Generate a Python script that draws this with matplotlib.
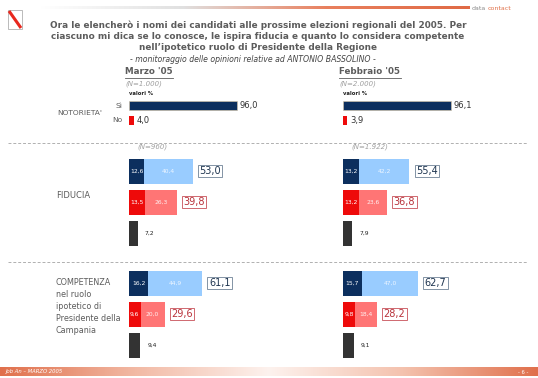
import numpy as np
import matplotlib.pyplot as plt
from matplotlib.patches import Rectangle
from matplotlib.colors import LinearSegmentedColormap

plt.rcParams['font.family'] = ['DejaVu Sans']

# data
months = ["Marzo '05", "Febbraio '05"]
n_total = ["(N=1.000)", "(N=2.000)"]
n_fid = ["(N=960)", "(N=1.922)"]
noto_si = [96.0, 96.1]
noto_no = [4.0, 3.9]
fid_molta = [12.6, 13.2]
fid_abb = [40.4, 42.2]
fid_poca = [13.5, 13.2]
fid_per = [26.3, 23.6]
fid_nd = [7.2, 7.9]
comp_molto = [16.2, 15.7]
comp_abb = [44.9, 47.0]
comp_poco = [9.6, 9.8]
comp_per = [20.0, 18.4]
comp_nd = [9.4, 9.1]

W, H = 538, 378
NAVY = '#0c2f5e'
LBLUE = '#99ccff'
RED = '#ee0a0a'
PINK = '#ff7575'
DGRAY = '#333333'
GREY = '#5c5c5c'


def fmt(v):
    return f"{v:.1f}".replace('.', ',')


fig = plt.figure(figsize=(W / 100, H / 100), dpi=100)
bg = fig.add_axes([0, 0, 1, 1])
bg.set_xlim(0, W)
bg.set_ylim(H, 0)
bg.axis('off')

# top gradient rule and footer band
grad = np.linspace(0, 1, 256).reshape(1, -1)
top_cm = LinearSegmentedColormap.from_list('t', ['#ffffff', '#e0e0e0', '#e9805e', '#e06a45'])
bg.imshow(grad, cmap=top_cm, extent=(40, 470, 9.5, 7), aspect='auto')
foot_cm = LinearSegmentedColormap.from_list('f', ['#e0704c', '#f2b9a4', '#fdf2ee', '#f4c2ae', '#e0704c'])
bg.imshow(grad, cmap=foot_cm, extent=(0, W, 376, 367.5), aspect='auto')
bg.set_xlim(0, W)
bg.set_ylim(H, 0)
bg.text(472, 8.5, 'data', color='#888888', fontsize=4.5, va='center')
bg.text(488, 8.5, 'contact', color='#e07048', fontsize=4.5, va='center')
bg.text(6, 372, 'Job An \u2013 MARZO 2005', color='white', fontsize=3.8, style='italic', va='center')
bg.text(528, 372, '- 6 -', color='white', fontsize=3.8, va='center', ha='right')

# logo
bg.add_patch(Rectangle((8, 10), 14, 19, fc='white', ec='#b0b0b0', lw=0.6))
bg.plot([9, 21], [11, 28], color='#e8281e', lw=2.2, solid_capstyle='butt')

# title
title = ("Ora le elencherò i nomi dei candidati alle prossime elezioni regionali del 2005. Per\n"
         "ciascuno mi dica se lo conosce, le ispira fiducia e quanto lo considera competente\n"
         "nell\u2019ipotetico ruolo di Presidente della Regione")
bg.text(258, 36, title, ha='center', va='center', fontsize=6.4, fontweight='bold',
        color=GREY, linespacing=1.25)
bg.text(253, 59.5, '- monitoraggio delle opinioni relative ad ANTONIO BASSOLINO -',
        ha='center', va='center', fontsize=5.6, style='italic', color='#444444')

# dashed separators
for yy in (143, 262):
    bg.plot([8, 528], [yy, yy], color='#b0b0b0', lw=0.7, ls=(0, (3, 2)))

# left labels
bg.text(57, 113, "NOTORIETA'", fontsize=5.4, color=GREY, va='center')
bg.text(122, 105.5, 'Sì', fontsize=5.4, color=GREY, va='center', ha='right')
bg.text(122, 120, 'No', fontsize=5.4, color=GREY, va='center', ha='right')
bg.text(56, 196, 'FIDUCIA', fontsize=6, color=GREY, va='center')
bg.text(56, 306.5, 'COMPETENZA\nnel ruolo\nipotetico di\nPresidente della\nCampania',
        fontsize=5.8, color=GREY, va='center', linespacing=1.4)

starts = [129, 343]
for i in range(2):
    x0 = starts[i]
    bg.text(x0 - 4, 72, months[i], fontsize=6.3, fontweight='bold', color=GREY, va='center')
    tw = 48 if i == 0 else 62
    bg.plot([x0 - 4, x0 - 4 + tw], [77.5, 77.5], color=GREY, lw=0.6)
    bg.text(x0 - 4, 84, n_total[i], fontsize=5, style='italic', color='#a0a0a0', va='center')
    bg.text(x0, 93.5, 'valori %', fontsize=3.8, fontweight='bold', color='#222222', va='center')
    bg.text(x0 + 8, 147, n_fid[i], fontsize=5, style='italic', color='#a0a0a0', va='center')

    # notorieta axes: 1.125 px per point
    sc = 1.125
    ax = fig.add_axes([x0 / W, 0, 150 / W, 1])
    ax.set_xlim(0, 150 / sc)
    ax.set_ylim(H, 0)
    ax.axis('off')
    ax.barh(105.5, noto_si[i], height=9, color=NAVY, ec='#d8c8a8', lw=0.4)
    ax.barh(120, noto_no[i], height=9, color=RED, lw=0)
    ax.text(noto_si[i] + 2.5, 105.5, fmt(noto_si[i]), fontsize=6, color='#333333', va='center')
    ax.text(noto_no[i] + 2.5, 120, fmt(noto_no[i]), fontsize=6, color='#333333', va='center')

    # fiducia / competenza axes: 1.2 px per point
    sc = 1.2
    ax = fig.add_axes([x0 / W, 0, 150 / W, 1])
    ax.set_xlim(0, 150 / sc)
    ax.set_ylim(H, 0)
    ax.axis('off')
    groups = [(171, fid_molta[i], fid_abb[i], fid_poca[i], fid_per[i], fid_nd[i]),
              (283, comp_molto[i], comp_abb[i], comp_poco[i], comp_per[i], comp_nd[i])]
    for yc, a, b, c, d, e in groups:
        y1, y2, y3 = yc, yc + 31, yc + 62
        ax.barh(y1, a, height=25, color=NAVY, lw=0)
        ax.barh(y1, b, left=a, height=25, color=LBLUE, lw=0)
        ax.barh(y2, c, height=25, color=RED, lw=0)
        ax.barh(y2, d, left=c, height=25, color=PINK, lw=0)
        ax.barh(y3, e, height=25, color=DGRAY, lw=0)
        ax.text(a / 2, y1, fmt(a), fontsize=4.3, color='white', ha='center', va='center')
        ax.text(a + b / 2, y1, fmt(b), fontsize=4.3, color='#eef6ff', ha='center', va='center')
        ax.text(c / 2, y2, fmt(c), fontsize=4.3, color='white', ha='center', va='center')
        ax.text(c + d / 2, y2, fmt(d), fontsize=4.3, color='#fff0f0', ha='center', va='center')
        ax.text(e + 6, y3, fmt(e), fontsize=4.3, color='#222222', ha='left', va='center')
        ax.text(a + b + 5.5, y1, fmt(a + b), fontsize=7, color='#1f3550', ha='left', va='center',
                bbox=dict(boxstyle='square,pad=0.15', fc='white', ec='#6f8296', lw=0.6))
        ax.text(c + d + 5.5, y2, fmt(c + d), fontsize=7, color='#b8323a', ha='left', va='center',
                bbox=dict(boxstyle='square,pad=0.15', fc='white', ec='#c85058', lw=0.6))

fig.savefig('out.png', dpi=100)
